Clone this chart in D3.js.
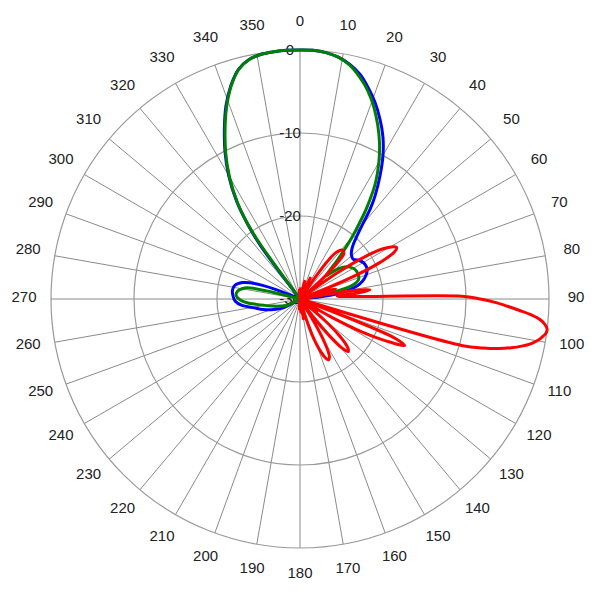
<!DOCTYPE html>
<html><head><meta charset="utf-8">
<script src="https://cdn.jsdelivr.net/npm/d3@7"></script>
<style>body{margin:0;background:#fff}svg{display:block}</style>
</head><body><svg id="chart" width="600" height="600"></svg>
<script>
const angleTicks = d3.range(0, 360, 10);
const ringTicks = [0, -10, -20, -30];

const blueAngles = [0,3,6,9,12,15,18,21,24,27,30,33,36,38,40,42,44,46,49,53,56,60,64,68,72,76,80,83,86,
  236,242,248,254,259,264,268,273,278,282,286,288,290,291.5,293,
  322.5,323.5,325,327,330,333,336,339,342,345,348,351,354,357];
const blueDb = [0,0,-0.15,-0.5,-1.1,-2.0,-3.3,-4.7,-6.3,-8.0,-10.0,-12.3,-14.6,-16.3,-18.3,-19.7,-20.7,-21.3,-21.8,-22.0,-21.6,-21.2,-21.1,-21.3,-21.8,-22.6,-24.3,-26.5,-30,
  -30,-27.8,-26.6,-25.4,-24.4,-22.9,-22.2,-21.9,-21.8,-22.0,-22.8,-23.7,-25.2,-27,-30,
  -30,-22,-19,-16,-12.8,-10.1,-7.6,-5.1,-3.0,-1.35,-0.5,-0.15,-0.05,0];

const greenAngles = [0,3,6,9,12,15,18,21,24,27,30,33,36,38,40,42,44,46,48,50,52,55,60,64,68,72,75,77,79,81,
  240,244,250,256,260,263,266,269,273,277,280,282,284,285.5,
  323,324,325,327,330,333,336,339,342,345,348,351,354,357];
const greenDb = [0,0,-0.15,-0.5,-1.2,-2.3,-3.6,-5.2,-7.0,-8.9,-11.0,-13.3,-16.2,-18.3,-20.2,-22.0,-23.6,-25.0,-25.8,-25.0,-24.0,-23.2,-22.6,-22.4,-22.4,-22.6,-23.3,-24.5,-26.5,-30,
  -30,-28.2,-27.5,-26.5,-25.6,-24.7,-23.6,-22.8,-22.3,-22.4,-22.9,-23.5,-26.5,-30,
  -30,-22,-19.3,-16.2,-13,-10.3,-7.8,-5.3,-3.1,-1.4,-0.5,-0.15,-0.05,0];

const redAngles = [0,4,7,10,12,15,18,22,26,30,
  34,36,38,41,44,46,48,49.5,
  53,55,57,59,61,62,63.5,65.5,67.5,69,
  71,73,75,77,
  79,81,82.5,84,85.5,
  89,90,91,92,93,94,95,96,97,98,99,100,101,102,103,104,105,106,106.8,
  110,112.5,114,116,118,120,122,
  124,126,128,
  129,131,133,135.5,137.5,139.5,141.5,143.5,145,
  147,149,151,153,155,157,159,161,163,165,
  167,170,173,176,180,184,188,270,352,356];
const redDb = [-30,-28.6,-30,-30,-30,-27.8,-30,-30,-27.2,-30,
  -30,-24.5,-22.8,-22.2,-22.4,-23.8,-26.5,-30,
  -30,-24.5,-20.5,-18.2,-17,-16.8,-17.3,-19.5,-24,-30,
  -30,-26.5,-25.5,-30,
  -30,-23.5,-21.5,-23,-25.5,
  -10.5,-8.3,-6.5,-5.0,-3.5,-2.0,-0.9,-0.3,0,-0.1,-0.5,-1.0,-1.7,-2.7,-3.9,-5.3,-7.2,-9.6,-30,
  -30,-17.5,-16.2,-18.5,-21.5,-25.5,-30,
  -30,-27.5,-30,
  -30,-26,-23.5,-21.8,-21.4,-22.3,-24.5,-27,-30,
  -30,-26,-23.5,-22.2,-21.9,-22.4,-23.5,-25,-27.5,-30,
  -30,-27.6,-30,-28.4,-30,-28.8,-30,-30,-30,-28.9];

const cx = 300, cy = 299, R = 249, labelR = 276, labelShift = -3;
const toRad = d => d * Math.PI / 180;
const r = d3.scaleLinear().domain([-30, 0]).range([0, R]).clamp(true);

const svg = d3.select('#chart');
svg.append('rect').attr('width', 600).attr('height', 600).attr('fill', '#fff');
const g = svg.append('g').attr('transform', `translate(${cx},${cy})`);

g.selectAll('line.spoke').data(angleTicks).join('line')
  .attr('class', 'spoke')
  .attr('x1', 0).attr('y1', 0)
  .attr('x2', d => R * Math.sin(toRad(d)))
  .attr('y2', d => -R * Math.cos(toRad(d)))
  .attr('stroke', '#8a8a8a').attr('stroke-width', 1);

g.selectAll('circle.ring').data(ringTicks.filter(d => d > -30)).join('circle')
  .attr('class', 'ring')
  .attr('r', d => r(d))
  .attr('fill', 'none').attr('stroke', '#999').attr('stroke-width', 1.2);

g.selectAll('text.alabel').data(angleTicks).join('text')
  .attr('class', 'alabel')
  .attr('x', d => labelR * Math.sin(toRad(d)))
  .attr('y', d => -labelR * Math.cos(toRad(d)) + labelShift)
  .attr('text-anchor', 'middle').attr('dominant-baseline', 'central')
  .attr('font-family', '"Liberation Sans", Arial, sans-serif').attr('font-size', 15)
  .attr('fill', '#222')
  .text(d => d);

g.selectAll('text.rlabel').data(ringTicks).join('text')
  .attr('class', 'rlabel')
  .attr('x', -10)
  .attr('y', d => -r(d) - 1)
  .attr('text-anchor', 'middle').attr('dominant-baseline', 'central')
  .attr('font-family', '"Liberation Sans", Arial, sans-serif').attr('font-size', 15)
  .attr('fill', '#222')
  .text(d => d);

const line = d3.lineRadial()
  .angle(d => toRad(d[0]))
  .radius(d => r(d[1]))
  .curve(d3.curveCatmullRomClosed.alpha(0.5));

const series = [
  {name: 'blue', color: '#0000ff', angles: blueAngles, values: blueDb},
  {name: 'green', color: '#008000', angles: greenAngles, values: greenDb},
  {name: 'red', color: '#ff0000', angles: redAngles, values: redDb}
];

g.selectAll('path.series').data(series).join('path')
  .attr('class', 'series')
  .attr('d', s => line(s.angles.map((a, i) => [a, Math.max(s.values[i], -30)])))
  .attr('fill', 'none')
  .attr('stroke', s => s.color)
  .attr('stroke-width', 3)
  .attr('stroke-linejoin', 'round');
</script>
</body></html>
